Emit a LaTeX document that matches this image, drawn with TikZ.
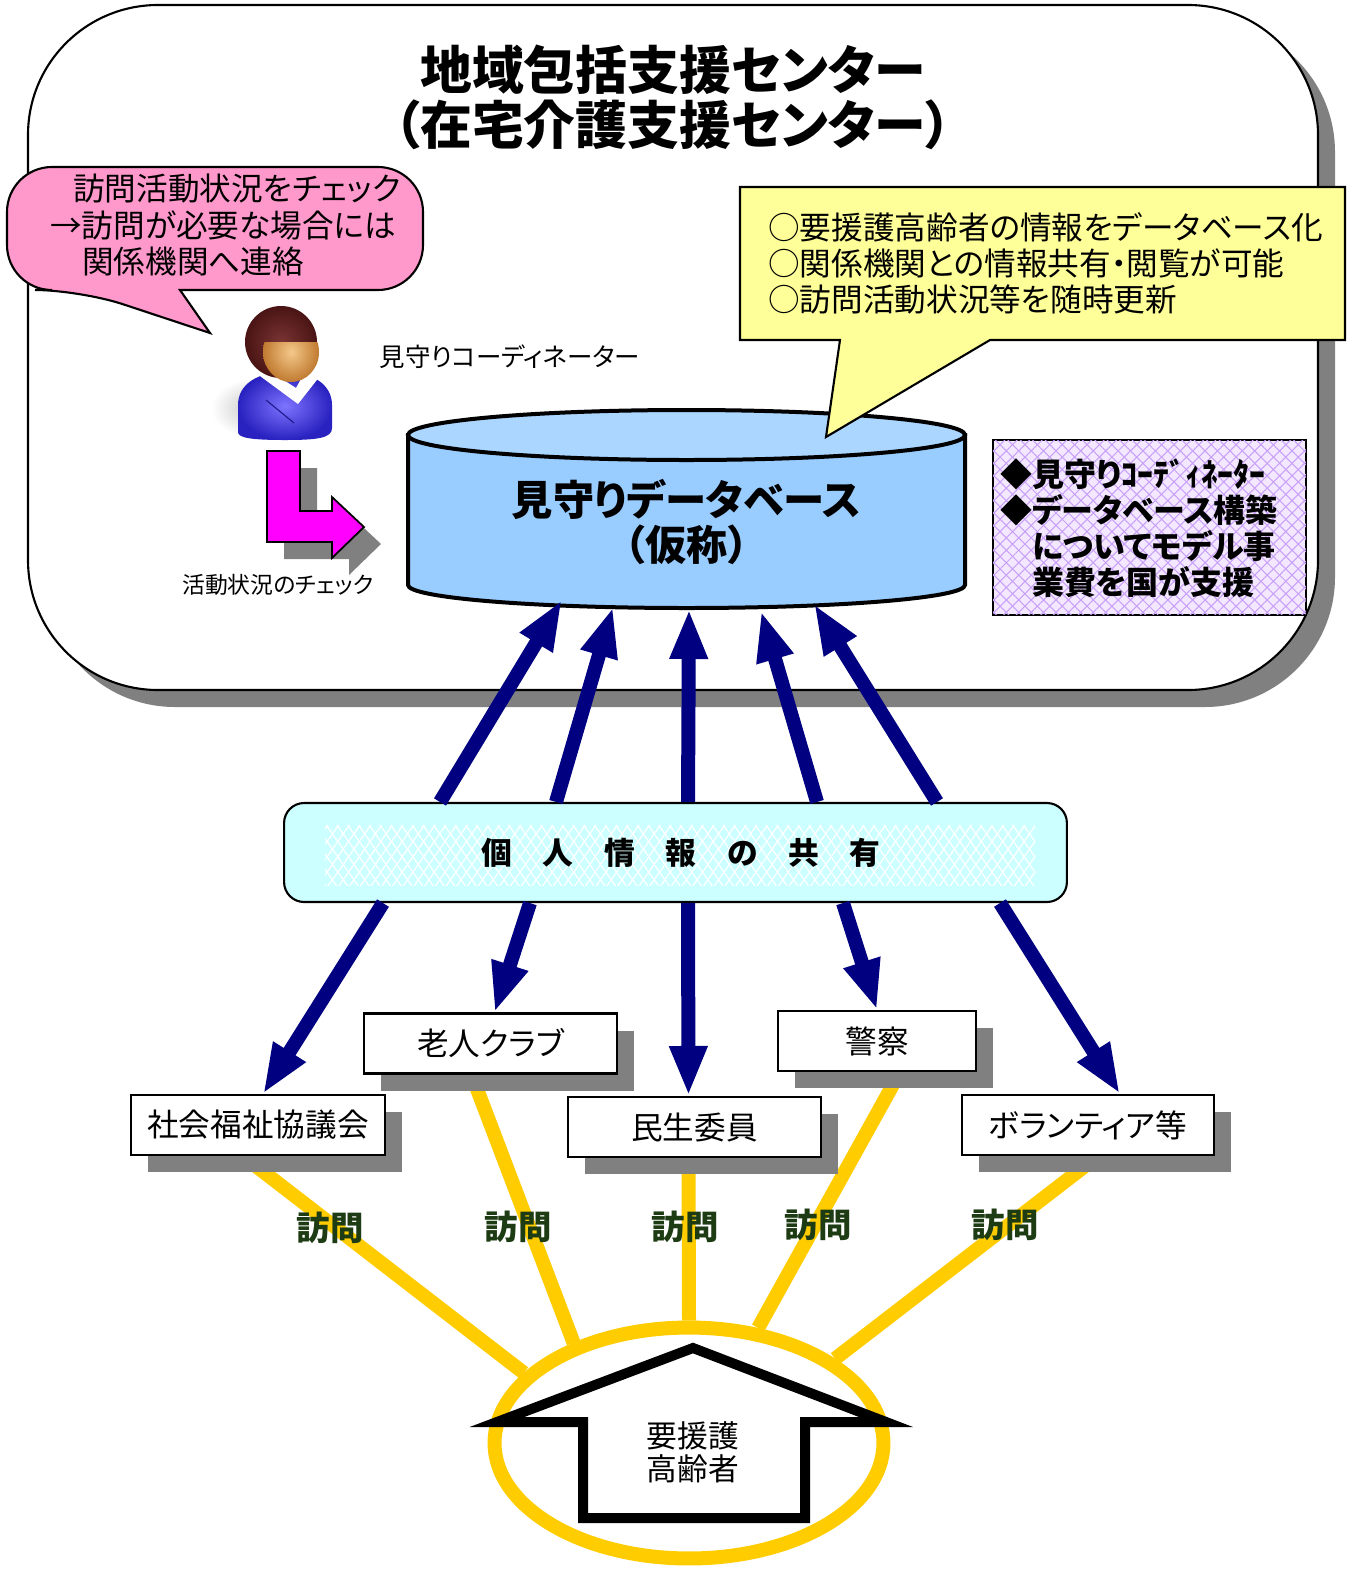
\documentclass[tikz,border=0pt]{standalone}
\usepackage{fontspec}
\setmainfont{Noto Sans CJK JP}[CharacterWidth=AlternateProportional]
\usetikzlibrary{
    shapes.geometric,
    arrows.meta,
    patterns.meta,
    calc,
    shadows,
    backgrounds
}

\definecolor{frameshade}{HTML}{808080}
\definecolor{notepink}{HTML}{FF99CC}
\definecolor{noteyellow}{HTML}{FFFF99}
\definecolor{dbblue}{HTML}{99CCFF}
\definecolor{dbtop}{HTML}{AAD6FF}
\definecolor{sharecyan}{HTML}{CCFFFF}
\definecolor{lavender}{HTML}{F3E8FF}
\definecolor{lavline}{HTML}{C8A0F8}
\definecolor{infonavy}{HTML}{000080}
\definecolor{visitgold}{HTML}{FFCC00}
\definecolor{visitgreen}{HTML}{1E3C14}
\definecolor{checkpink}{HTML}{FF00FF}
\definecolor{personblue}{HTML}{2A22C0}
\definecolor{personhi}{HTML}{7E74FF}
\definecolor{hairdark}{HTML}{4A1414}
\definecolor{hairhi}{HTML}{7A3434}
\definecolor{facedark}{HTML}{C07A30}
\definecolor{facehi}{HTML}{F4C88A}

\newcommand{\jpsize}[2]{\fontsize{#1}{#2}\selectfont}

\begin{document}
\begin{tikzpicture}[
    x=0.02cm, y=-0.02cm,
    orgbox/.style={draw, line width=1.2pt, fill=white, minimum height=1.2cm,
                   inner sep=0pt, font=\jpsize{18}{20},
                   drop shadow={shadow xshift=0.34cm, shadow yshift=-0.34cm,
                                fill=frameshade, opacity=1}},
    infoarrow/.style={draw=infonavy, line width=0.28cm,
                      -{Triangle[length=1.0cm, width=0.7cm]}},
    visitline/.style={draw=visitgold, line width=0.28cm},
    visitlabel/.style={font=\bfseries\jpsize{19}{21}, text=visitgreen}
]
    \useasboundingbox (0,0) rectangle (1351,1569);

    % the centre
    \fill[frameshade, rounded corners=2.6cm] (45,22) rectangle (1335,707);
    \draw[fill=white, line width=1.2pt, rounded corners=2.6cm] (28,5) rectangle (1318,690);
    \node[font=\bfseries\jpsize{29.5}{31.3}, align=center] (title) at (673,97)
        {地域包括支援センター\\（在宅介護支援センター）};

    % coordinator and check note
    \draw[fill=notepink, line width=1.2pt]
        (180,290) [rounded corners=0.9cm] -- (423,290) -- (423,167) -- (7,167) -- (7,290)
        -- (80,290) [sharp corners] -- (210,333) -- cycle;
    \node[anchor=west, inner sep=0pt, align=left, font=\jpsize{18}{21}] (checknote) at (50,225)
        {\hspace*{0.46cm}訪問活動状況をチェック\\→訪問が必要な場合には\\\hspace*{0.64cm}関係機関へ連絡};

    \shade[inner color=gray!45, outer color=white] (255,408) ellipse [x radius=44, y radius=30];
    \shade[inner color=personhi, outer color=personblue]
        (238,432) -- (238,405) .. controls (238,384) and (258,372) .. (285,372)
        .. controls (312,372) and (332,384) .. (332,405) -- (332,428)
        .. controls (332,438) and (318,440) .. (285,440)
        .. controls (252,440) and (238,438) .. (238,432) -- cycle;
    \fill[white] (260,376) -- (298,404) -- (320,376) -- (306,370) -- (296,388) -- (268,370) -- cycle;
    \draw[personblue!70!black, line width=0.6pt] (266,400) -- (294,423);
    \shade[inner color=hairhi, outer color=hairdark] (281,342) circle [radius=36];
    \begin{scope}
        \clip (250,342) rectangle (330,400);
        \shade[inner color=facehi, outer color=facedark] (291,352) ellipse [x radius=28, y radius=30];
    \end{scope}
    \node[font=\jpsize{14.5}{16}] (coordlabel) at (510,357) {見守りコーディネーター};

    \fill[frameshade, shift={(17,17)}]
        (267,451) -- (300,451) -- (300,511) -- (332,511) -- (332,497) -- (364,527)
        -- (332,558) -- (332,542) -- (267,542) -- cycle;
    \draw[fill=checkpink, line width=1pt]
        (267,451) -- (300,451) -- (300,511) -- (332,511) -- (332,497) -- (364,527)
        -- (332,558) -- (332,542) -- (267,542) -- cycle;
    \node[font=\jpsize{13}{15}] (checklabel) at (278,585) {活動状況のチェック};

    % database
    \draw[fill=dbblue, line width=0.08cm] (408,435) -- (408,585)
        arc[start angle=180, end angle=0, x radius=278.5, y radius=23] -- (965,435) -- cycle;
    \draw[fill=dbtop, line width=0.08cm] (686.5,435) ellipse [x radius=278.5, y radius=25];
    \node[font=\bfseries\jpsize{23.5}{25.6}, align=center] (db) at (686.5,522)
        {見守りデータベース\\（仮称）};
    \coordinate (dbbase) at (686.5,608);

    \draw[fill=noteyellow, line width=1.2pt]
        (840,340) -- (826,437) -- (990,340) -- (1345,340) -- (1345,187) -- (740,187) -- (740,340) -- cycle;
    \node[anchor=west, inner sep=0pt, align=left, font=\jpsize{18}{20.5}] (dbnote) at (768,263)
        {○要援護高齢者の情報をデータベース化\\○関係機関との情報共有・閲覧が可能\\○訪問活動状況等を随時更新};

    \node[draw, line width=1pt, fill=lavender, minimum width=6.26cm, minimum height=3.5cm,
          postaction={pattern={Lines[angle=45, distance=5pt, line width=0.6pt]}, pattern color=lavline},
          postaction={pattern={Lines[angle=-45, distance=5pt, line width=0.6pt]}, pattern color=lavline}]
        (support) at (1149.5,527.5) {};
    \node[anchor=west, inner sep=0pt, align=left, font=\bfseries\jpsize{18.2}{20.5}] (supporttext) at (1000,528)
        {◆見守りｺｰﾃﾞｨﾈｰﾀｰ\\◆データベース構築\\\phantom{◆}についてモデル事\\\phantom{◆}業費を国が支援};

    % sharing
    \node[draw, line width=1.2pt, fill=sharecyan, rounded corners=0.4cm,
          minimum width=15.66cm, minimum height=1.98cm] (share) at (675.5,852.5) {};
    \fill[pattern={Lines[angle=55, distance=5pt, line width=0.7pt]}, pattern color=white]
        (325,825) rectangle (1035,885);
    \fill[pattern={Lines[angle=-55, distance=5pt, line width=0.7pt]}, pattern color=white]
        (325,825) rectangle (1035,885);
    \node[font=\bfseries\jpsize{17.5}{20}] (sharetext) at (681,853) {個　人　情　報　の　共　有};

    \foreach \dx/\tx/\ty in {-235.5/-124.5/-8, -119.5/-73.5/-1, 12.5/2.5/1, 141.5/74.5/3, 261.5/127.5/-4}
        \draw[infoarrow] ($(share.north)+(\dx,0)$) -- ($(dbbase)+(\tx,\ty)$);

    % organisations
    \node[orgbox, minimum width=5.08cm] (soc) at (258,1125) {社会福祉協議会};
    \node[orgbox, minimum width=5.06cm] (club) at (490.5,1043.5) {老人クラブ};
    \node[orgbox, minimum width=5.06cm] (minsei) at (694.5,1127) {民生委員};
    \node[orgbox, minimum width=3.96cm] (police) at (877,1041) {警察};
    \node[orgbox, minimum width=5.04cm] (volunteer) at (1088,1125) {ボランティア等};

    \foreach \dx/\org/\ox in {-292.5/soc/5, -145.5/club/4, 12.5/minsei/-6, 167.5/police/0, 324.5/volunteer/32}
        \draw[infoarrow] ($(share.south)+(\dx,0)$) -- ($(\org.north)+(\ox,0)$);

    % elderly
    \node[draw=visitgold, line width=0.28cm, ellipse, inner sep=0pt,
          minimum width=7.78cm, minimum height=4.62cm] (elder) at (689,1443) {};
    \draw[line width=0.2cm, fill=white, line join=miter]
        (693,1348) -- (886,1422) -- (805,1422) -- (805,1518) -- (583,1518) -- (583,1422) -- (497,1422) -- cycle;
    \node[font=\jpsize{17.5}{19}, align=center] (elderlabel) at (693,1452) {要援護\\高齢者};

    \begin{scope}[on background layer]
        \foreach \org/\ox/\ang in {soc/-15/157, club/-19/139, minsei/-6/90, police/23/59, volunteer/10/30}
            \draw[visitline] ($(\org.south)+(\ox,0)$) -- (elder.\ang);
    \end{scope}

    \foreach \n/\x/\y in {1/330/1228, 2/518/1227, 3/685/1227, 4/818/1225, 5/1005/1225}
        \node[visitlabel] (visit\n) at (\x,\y) {訪問};

\end{tikzpicture}
\end{document}
